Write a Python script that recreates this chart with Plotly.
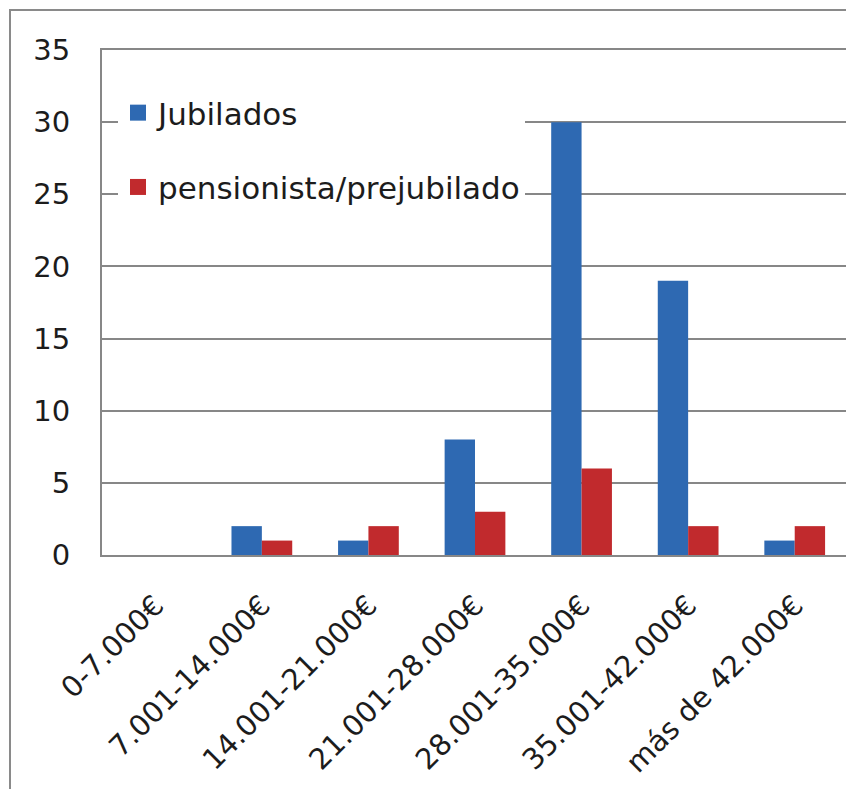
import plotly.graph_objects as go

categories = ["0-7.000€", "7.001-14.000€", "14.001-21.000€", "21.001-28.000€",
              "28.001-35.000€", "35.001-42.000€", "más de 42.000€"]
jubilados = [0, 2, 1, 8, 30, 19, 1]
pensionistas = [0, 1, 2, 3, 6, 2, 2]
y_ticks = [0, 5, 10, 15, 20, 25, 30, 35]
series_names = ["Jubilados", "pensionista/prejubilado"]
series_colors = ["#2E69B2", "#C12A2D"]

# page has an 8px body margin; figure coordinates = page coordinates - 8
W, H = 846, 781
L, R, T, B = 94, 6, 42, 234
pw, ph = W - L - R, H - T - B
FONT = "'DejaVu Sans', Verdana, sans-serif"
TXT = "#1c1c1c"
GRID = "#878787"

fig = go.Figure()
for name, vals, col, grp in zip(series_names, [jubilados, pensionistas], series_colors, ["a", "b"]):
    fig.add_trace(go.Bar(x=categories, y=vals, name=name,
                         marker=dict(color=col, line=dict(width=0)),
                         showlegend=False, legendgroup=grp))
# legend entries with larger square swatches
for name, col, grp in zip(series_names, series_colors, ["a", "b"]):
    fig.add_trace(go.Scatter(x=[None], y=[None], mode="markers", name=name,
                             marker=dict(symbol="square", size=19, color=col),
                             legendgroup=grp, showlegend=True))

def px_x(x):
    return (x - L) / pw

def px_y(y):
    return (H - B - y) / ph

fig.update_layout(
    width=W, height=H,
    margin=dict(l=L, r=R, t=T, b=B, autoexpand=False),
    paper_bgcolor="white", plot_bgcolor="white",
    barmode="group", bargap=0.43, bargroupgap=0,
    font=dict(family=FONT, size=29, color=TXT),
    showlegend=True,
    legend=dict(x=px_x(110), y=px_y(78), xanchor="left", yanchor="top",
                bgcolor="white", font=dict(family=FONT, size=31, color=TXT),
                traceorder="grouped", tracegroupgap=31, itemwidth=30,
                borderwidth=0),
    xaxis=dict(tickangle=-45, showline=True, linecolor=GRID, linewidth=2,
               mirror=True, ticks="", showgrid=False, automargin=False,
               tickfont=dict(family=FONT, size=29, color=TXT),
               ticklabelstandoff=20, fixedrange=True),
    yaxis=dict(range=[0, 35], tickvals=y_ticks, showgrid=True, gridcolor=GRID,
               gridwidth=2, showline=True, linecolor=GRID, linewidth=2,
               ticks="", zeroline=False, automargin=False,
               tickfont=dict(family=FONT, size=29, color=TXT),
               ticklabelstandoff=24),
    shapes=[dict(type="rect", xref="paper", yref="paper",
                 x0=px_x(2), x1=px_x(W + 20), y0=px_y(H + 20), y1=px_y(2),
                 line=dict(color="#8a8a8a", width=2), fillcolor="rgba(0,0,0,0)",
                 layer="below")],
)

fig.write_html("out.html")
